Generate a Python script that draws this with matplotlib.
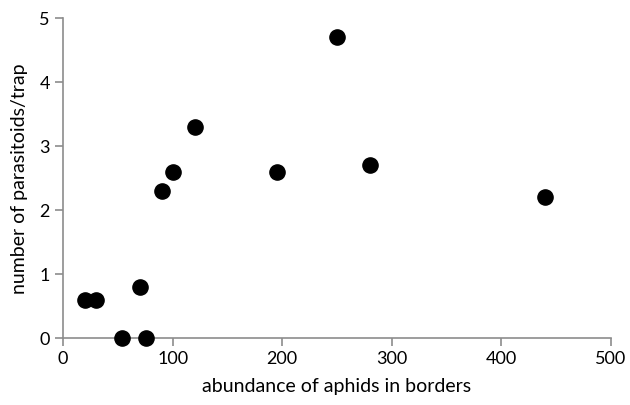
import matplotlib
matplotlib.use('Agg')
import matplotlib.pyplot as plt

plt.rcParams['font.family'] = ['Lato', 'DejaVu Sans']
fontsize = 13

# abundance of aphids vs parasitoids per trap
aphids = [20, 30, 54, 70, 76, 90, 100, 120, 195, 250, 280, 440]
parasitoids = [0.6, 0.6, 0.0, 0.8, 0.0, 2.3, 2.6, 3.3, 2.6, 4.7, 2.7, 2.2]

fig = plt.figure(figsize=(6.3, 4.05), dpi=100)
ax = fig.add_axes([0.1, 0.165, 0.87, 0.79])

ax.scatter(aphids, parasitoids, s=120, c='black', zorder=3, clip_on=False)

ax.set_xlim(0, 500)
ax.set_ylim(0, 5)
ax.set_xticks([0, 100, 200, 300, 400, 500])
ax.set_yticks([0, 1, 2, 3, 4, 5])

for side in ['top', 'right']:
    ax.spines[side].set_visible(False)
for side in ['left', 'bottom']:
    ax.spines[side].set_color('#8c8c8c')
    ax.spines[side].set_linewidth(1.2)

ax.tick_params(axis='both', colors='#8c8c8c', labelcolor='black',
               labelsize=fontsize, length=6, width=1.2, direction='out')

ax.set_xlabel('abundance of aphids in borders', fontsize=fontsize + 1, labelpad=8)
ax.set_ylabel('number of parasitoids/trap', fontsize=fontsize + 1, labelpad=8)

fig.savefig('out.png', dpi=100)
